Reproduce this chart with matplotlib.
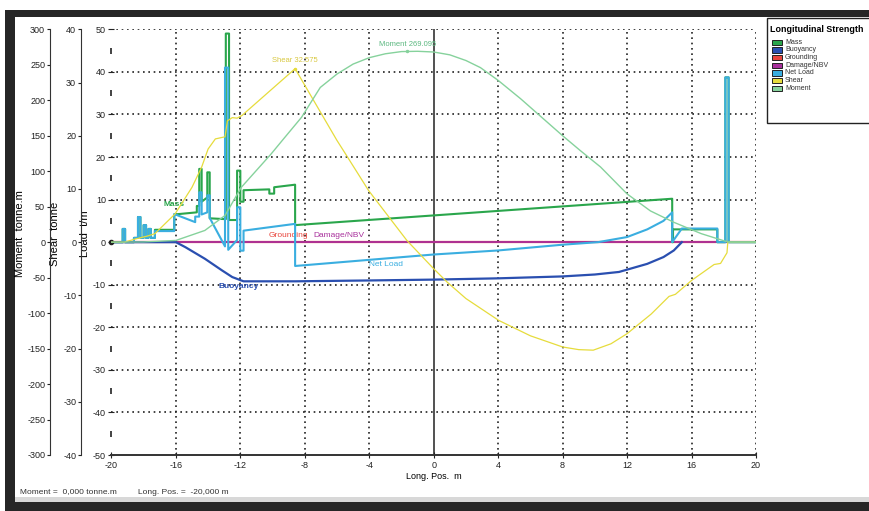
import matplotlib
matplotlib.use('Agg')
import matplotlib.pyplot as plt
from matplotlib.patches import Rectangle

plt.rcParams['font.family'] = ['Liberation Sans', 'DejaVu Sans']
plt.rcParams['axes.unicode_minus'] = False

# --- data (x in m) ---
mass_x = [-20, -19.3, -19.3, -19.15, -19.15, -18.6, -18.6, -18.35, -18.35, -18.2, -18.2,
          -18.0, -18.0, -17.85, -17.85, -17.7, -17.7, -17.55, -17.55, -17.3, -17.3, -16.1,
          -16.1, -14.7, -14.7, -14.55, -14.55, -14.4, -14.4, -14.05, -14.05, -13.9, -13.9,
          -12.9, -12.9, -12.7, -12.7, -12.2, -12.2, -12.0, -12.0, -11.8, -11.8, -10.2,
          -10.2, -9.9, -9.9, -8.6, -8.6, 14.8, 14.8, 14.85, 14.85, 17.6, 17.6, 18.1,
          18.1, 18.3, 18.3, 20]
mass_y = [0, 0, 3.1, 3.1, 0, 0, 1.0, 1.0, 5.9, 5.9, 1.0,
          1.0, 4.0, 4.0, 1.0, 1.0, 3.1, 3.1, 1.0, 1.0, 2.9, 2.9,
          6.5, 7.0, 8.5, 8.5, 17.2, 17.2, 9.5, 10.5, 16.4, 16.4, 5.6,
          5.4, 49.0, 49.0, 5.2, 5.2, 16.8, 16.8, 9.5, 9.5, 12.2, 12.4,
          11.4, 11.4, 12.9, 13.5, 4.0, 10.2, 0, 0, 3.0, 3.0, 0, 0,
          38.7, 38.7, 0, 0]

buoy_x = [-20, -16, -15.4, -14.2, -13.15, -12.5, -11.8, -8.6, -4, 0, 4, 8, 10,
          11.5, 13.25, 14.26, 14.9, 15.4]
buoy_y = [0, 0, -1.2, -3.9, -6.6, -8.2, -9.2, -9.2, -9.0, -8.8, -8.5, -8.05, -7.6,
          -7.0, -5.1, -3.5, -1.95, 0]

net_x = [-20, -19.3, -19.3, -19.15, -19.15, -18.6, -18.6, -18.35, -18.35, -18.2, -18.2,
         -18.0, -18.0, -17.85, -17.85, -17.7, -17.7, -17.55, -17.55, -17.3, -17.3, -16.1,
         -16.1, -14.8, -14.8, -14.55, -14.55, -14.4, -14.4, -14.05, -14.05, -13.9, -13.9,
         -12.95, -12.95, -12.75, -12.75, -12.2, -12.2, -12.0, -12.0, -11.8, -11.8, -8.6,
         -8.6, 0, 4, 8, 10.2, 12, 13.25, 14.26, 14.8, 14.8, 15.4, 17.6, 17.6, 18.1,
         18.1, 18.3, 18.3, 20]
net_y = [0, 0, 3.1, 3.1, 0, 0, 1.0, 1.0, 5.9, 5.9, 1.0,
         1.0, 4.0, 4.0, 1.0, 1.0, 3.1, 3.1, 1.0, 1.0, 2.6, 2.6,
         6.6, 4.7, 6.0, 6.0, 11.7, 11.7, 6.5, 7.0, 11.0, 11.0, 5.7,
         -1.0, 41.0, 41.0, -1.8, 0.5, 8.2, 8.2, -2.0, -2.0, 2.7, 4.3,
         -5.6, -2.9, -1.95, -0.6, 0, 1.2, 3.0, 5.0, 7.0, 0, 3.2, 3.2, 0, 0,
         38.7, 38.7, 0, 0]

shear_x = [-20, -19.2, -18.5, -17.7, -17.3, -16.05, -15.0, -14.4, -14.0, -13.55, -12.95,
           -12.8, -12.5, -12.2, -11.9, -8.6, -6.0, -5.6, -4.04, -1.66, 0, 0.83, 2.0, 4.03,
           6.0, 8.0, 9.0, 9.9, 11.0, 12.0, 13.5, 14.6, 15.0, 16.0, 17.4, 17.8, 18.2,
           18.25, 20]
shear_y = [0, 0, 0.6, 1.2, 1.6, 5.3, 10.3, 14.1, 17.5, 19.4, 19.8,
           22.8, 23.4, 23.3, 23.8, 32.6, 19.1, 17.2, 9.7, 0.3, -5.0, -7.5, -10.6, -14.7,
           -17.6, -19.7, -20.2, -20.3, -19.1, -17.2, -13.5, -10.2, -9.8, -7.2, -4.2, -4.0,
           -2.0, 0, 0]

moment_x = [-20, -18, -16, -14.2, -12.95, -11.95, -10.1, -9.3, -8.2, -7.04, -6.0, -5.0,
            -4.0, -3.0, -2.0, -1.0, 0, 1.0, 2.0, 2.9, 4.0, 5.4, 7.0, 8.0, 9.1, 10.35,
            12.0, 13.45, 14.9, 16.6, 18.0, 18.3, 20]
moment_y = [0, 0.3, 2.4, 16.5, 37.6, 77, 124, 146, 176, 218, 237, 251,
            260, 265.5, 268.6, 269.0, 268, 264, 256, 246, 228, 202, 170, 150, 129, 106,
            68, 44, 28, 12, 2, 0, 0]

zero_x = [-20, 20]
zero_y = [0, 0]

x_ticks = list(range(-20, 21, 4))
load_ticks = list(range(-50, 51, 10))
shear_ticks = list(range(-40, 41, 10))
moment_ticks = list(range(-300, 301, 50))

legend_names = ['Mass', 'Buoyancy', 'Grounding', 'Damage/NBV', 'Net Load', 'Shear', 'Moment']
legend_colors = ['#2aa64c', '#2a4fb0', '#e8453c', '#a8309c', '#3aaee0', '#e6dc3c', '#86d29c']

W, H = 869, 511


def fx(px):
    return px / W


def fy(py):
    return 1 - py / H


fig = plt.figure(figsize=(W / 100, H / 100), dpi=100)
fig.patch.set_facecolor('white')

# photo frame
fig.add_artist(Rectangle((fx(5), fy(511)), fx(864), 501 / H, transform=fig.transFigure,
                         facecolor='#262626', edgecolor='none', zorder=-10))
fig.add_artist(Rectangle((fx(15), fy(502)), fx(854), 485 / H, transform=fig.transFigure,
                         facecolor='white', edgecolor='none', zorder=-9))
fig.add_artist(Rectangle((fx(15), fy(502)), fx(854), 5 / H, transform=fig.transFigure,
                         facecolor='#d8d8d8', edgecolor='none', zorder=-8))

left, right, top, bottom = 111.4, 756.0, 29.3, 455.0
ax = fig.add_axes([fx(left), fy(bottom), fx(right - left), (bottom - top) / H])
ax.set_facecolor('none')
ax.set_xlim(-20, 20)
ax.set_ylim(-50, 50)

for v in [-16, -12, -8, -4, 4, 8, 12, 16, 20]:
    ax.axvline(v, color='#222222', ls=(0, (1, 2.2)), lw=1.2, zorder=1)
for v in [50, 40, 30, 20, 10, -10, -20, -30, -40]:
    ax.axhline(v, color='#222222', ls=(0, (1, 2.2)), lw=1.2, zorder=1)
ax.axvline(0, color='#333333', lw=1.2, zorder=1)

for s in ['top', 'right', 'left']:
    ax.spines[s].set_visible(False)
ax.spines['bottom'].set_color('#333333')
ax.spines['bottom'].set_linewidth(1.4)

ax.set_xticks(x_ticks)
ax.set_yticks(load_ticks)
ax.tick_params(axis='both', direction='inout', length=5, width=0.8, labelsize=6.5,
               pad=1.5, colors='#222222')
ax.plot([-20] * 10, [45, 35, 25, 15, 5, -5, -15, -25, -35, -45], ls='none',
        marker='|', ms=4, mew=1.2, color='#222222', zorder=3, clip_on=False)

ax.plot(zero_x, zero_y, color=legend_colors[2], lw=1.6, zorder=2)
ax.plot(zero_x, zero_y, color=legend_colors[3], lw=1.3, zorder=2.1)
ax.plot(mass_x, mass_y, color=legend_colors[0], lw=1.5, zorder=3)
ax.plot(net_x, net_y, color=legend_colors[4], lw=1.5, zorder=4)
ax.plot(buoy_x, buoy_y, color=legend_colors[1], lw=1.6, zorder=5)
ax.plot([-20], [0], marker='o', ms=3, color='#222222', zorder=6, clip_on=False)

ax.set_xlabel('Long. Pos.  m', fontsize=6.5, labelpad=2)
ax.set_ylabel('Load  t/m', fontsize=8)
ax.yaxis.set_label_coords(-0.033, 0.52)

ax.text(-16.1, 8.6, 'Mass', color=legend_colors[0], fontsize=6, ha='center', weight='bold')
ax.text(-12.1, -10.4, 'Buoyancy', color=legend_colors[1], fontsize=6, ha='center',
        va='center', weight='bold')
ax.text(-9.0, 1.6, 'Grounding', color=legend_colors[2], fontsize=6, ha='center', va='center')
ax.text(-5.85, 1.6, 'Damage/NBV', color=legend_colors[3], fontsize=6, ha='center', va='center')
ax.text(-2.95, -5.3, 'Net Load', color=legend_colors[4], fontsize=6, ha='center', va='center')

# shear axis
ax_s = ax.twinx()
ax_s.set_ylim(-40, 40)
ax_s.yaxis.set_ticks_position('left')
ax_s.yaxis.set_label_position('left')
ax_s.spines['left'].set_position(('axes', (81 - left) / (right - left)))
for s in ['top', 'right', 'bottom']:
    ax_s.spines[s].set_visible(False)
ax_s.spines['left'].set_color('#333333')
ax_s.set_yticks(shear_ticks)
ax_s.tick_params(axis='y', length=2.5, width=0.8, labelsize=6.5, pad=1, colors='#222222')
ax_s.set_ylabel('Shear  tonne', fontsize=8)
ax_s.yaxis.set_label_coords((60 - left) / (right - left), 0.52)
ax_s.plot(shear_x, shear_y, color=legend_colors[5], lw=0.9, zorder=2)
ax_s.plot([-8.6], [32.6], marker='.', ms=3, color=legend_colors[5])
ax_s.text(-8.6, 33.8, 'Shear 32.575', color='#d8c840', fontsize=5.5, ha='center')

# moment axis
ax_m = ax.twinx()
ax_m.set_ylim(-300, 300)
ax_m.yaxis.set_ticks_position('left')
ax_m.yaxis.set_label_position('left')
ax_m.spines['left'].set_position(('axes', (50 - left) / (right - left)))
for s in ['top', 'right', 'bottom']:
    ax_m.spines[s].set_visible(False)
ax_m.spines['left'].set_color('#333333')
ax_m.set_yticks(moment_ticks)
ax_m.tick_params(axis='y', length=2.5, width=0.8, labelsize=6.5, pad=1, colors='#222222')
ax_m.set_ylabel('Moment  tonne.m', fontsize=8)
ax_m.yaxis.set_label_coords((25 - left) / (right - left), 0.52)
ax_m.plot(moment_x, moment_y, color=legend_colors[6], lw=1.0, zorder=2)
ax_m.plot([-1.66], [269.1], marker='.', ms=3, color=legend_colors[6])
ax_m.text(-1.6, 276, 'Moment 269.095', color='#5cb880', fontsize=5.5, ha='center')

# legend box
fig.add_artist(Rectangle((fx(766.7), fy(123)), fx(110), 104.7 / H, transform=fig.transFigure,
                         facecolor='white', edgecolor='#222222', lw=1.0))
fig.text(fx(770), fy(30), 'Longitudinal Strength', fontsize=6.4, weight='bold', va='center',
         ha='left')
for i, (name, col) in enumerate(zip(legend_names, legend_colors)):
    yy = 42.3 + i * 7.67
    fig.add_artist(Rectangle((fx(771.7), fy(yy + 2.6)), fx(10), 5.2 / H,
                             transform=fig.transFigure, facecolor=col, edgecolor='#222222',
                             lw=0.7))
    fig.text(fx(785), fy(yy), name, fontsize=5, va='center', ha='left', color='#333333')

fig.text(fx(20), fy(492), 'Moment =  0,000 tonne.m', fontsize=6, va='center', color='#333333')
fig.text(fx(138), fy(492), 'Long. Pos. =  -20,000 m', fontsize=6, va='center', color='#333333')

fig.savefig('out.png', dpi=100)
